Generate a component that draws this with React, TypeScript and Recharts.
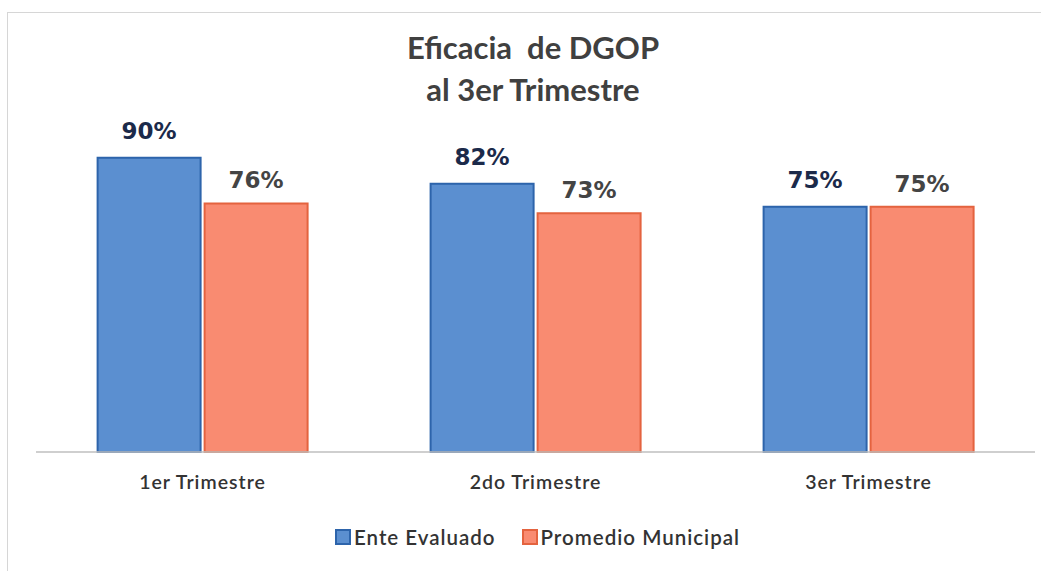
import { BarChart, Bar, XAxis, YAxis, Legend, LabelList } from 'recharts';

const categories = ['1er Trimestre', '2do Trimestre', '3er Trimestre'];
const enteEvaluado = [90, 82, 75];
const promedioMunicipal = [76, 73, 75];

const data = categories.map((name, i) => ({
  name,
  ente: enteEvaluado[i],
  promedio: promedioMunicipal[i],
}));

const FONT = 'Lato, "Open Sans", sans-serif';
const LABEL_FONT = '"DejaVu Sans", sans-serif';

const legendItems = [
  { label: 'Ente Evaluado', fill: '#5b8fd0', stroke: '#2d64ab' },
  { label: 'Promedio Municipal', fill: '#f98b71', stroke: '#e4633f' },
];

function CustomLegend() {
  return (
    <div style={{ display: 'flex', justifyContent: 'center', gap: 26, height: 24, alignItems: 'center', fontFamily: FONT, fontSize: 20.5, fontWeight: 600, letterSpacing: 1, color: '#333', paddingLeft: 4 }}>
      {legendItems.map((it) => (
        <div key={it.label} style={{ display: 'flex', alignItems: 'center', gap: 3 }}>
          <span style={{ width: 12, height: 12, background: it.fill, border: `2px solid ${it.stroke}`, display: 'inline-block' }} />
          <span>{it.label}</span>
        </div>
      ))}
    </div>
  );
}

export default function App() {
  return (
    <div style={{ position: 'absolute', left: 0, top: 0, width: 1041, height: 571, background: '#fff', overflow: 'hidden' }}>
      <div style={{ position: 'absolute', left: 7, top: 12, width: 1060, height: 600, border: '1px solid #d6d6d6' }} />
      <div style={{ position: 'absolute', left: 0, top: 26, width: 1066, textAlign: 'center', fontFamily: FONT, fontSize: 31, fontWeight: 700, color: '#404040', lineHeight: '42px' }}>
        <div>Eficacia&nbsp; de DGOP</div>
        <div>al 3er Trimestre</div>
      </div>
      <BarChart
        width={1041}
        height={571}
        data={data}
        margin={{ top: 125, right: 6, left: 36, bottom: 22 }}
        barCategoryGap="18.5%"
        barGap={4}
        style={{ position: 'absolute', left: 0, top: 0 }}
      >
        <XAxis
          dataKey="name"
          height={73}
          tickLine={false}
          axisLine={{ stroke: '#bfbfbf', strokeWidth: 1.5 }}
          tick={{ fontFamily: FONT, fontSize: 19.5, fontWeight: 600, fill: '#333', letterSpacing: 1 }}
          tickMargin={17}
        />
        <YAxis hide domain={[0, 100]} />
        <Legend verticalAlign="bottom" content={<CustomLegend />} />
        <Bar dataKey="ente" name="Ente Evaluado" fill="#5b8fd0" stroke="#2d64ab" strokeWidth={2} isAnimationActive={false}>
          <LabelList dataKey="ente" position="top" offset={19} formatter={(v: number) => `${v}%`} style={{ fontFamily: LABEL_FONT, fontSize: 23, fontWeight: 700, fill: '#1b2a4a' }} />
        </Bar>
        <Bar dataKey="promedio" name="Promedio Municipal" fill="#f98b71" stroke="#e4633f" strokeWidth={2} isAnimationActive={false}>
          <LabelList dataKey="promedio" position="top" offset={15} formatter={(v: number) => `${v}%`} style={{ fontFamily: LABEL_FONT, fontSize: 23, fontWeight: 700, fill: '#444' }} />
        </Bar>
      </BarChart>
    </div>
  );
}
